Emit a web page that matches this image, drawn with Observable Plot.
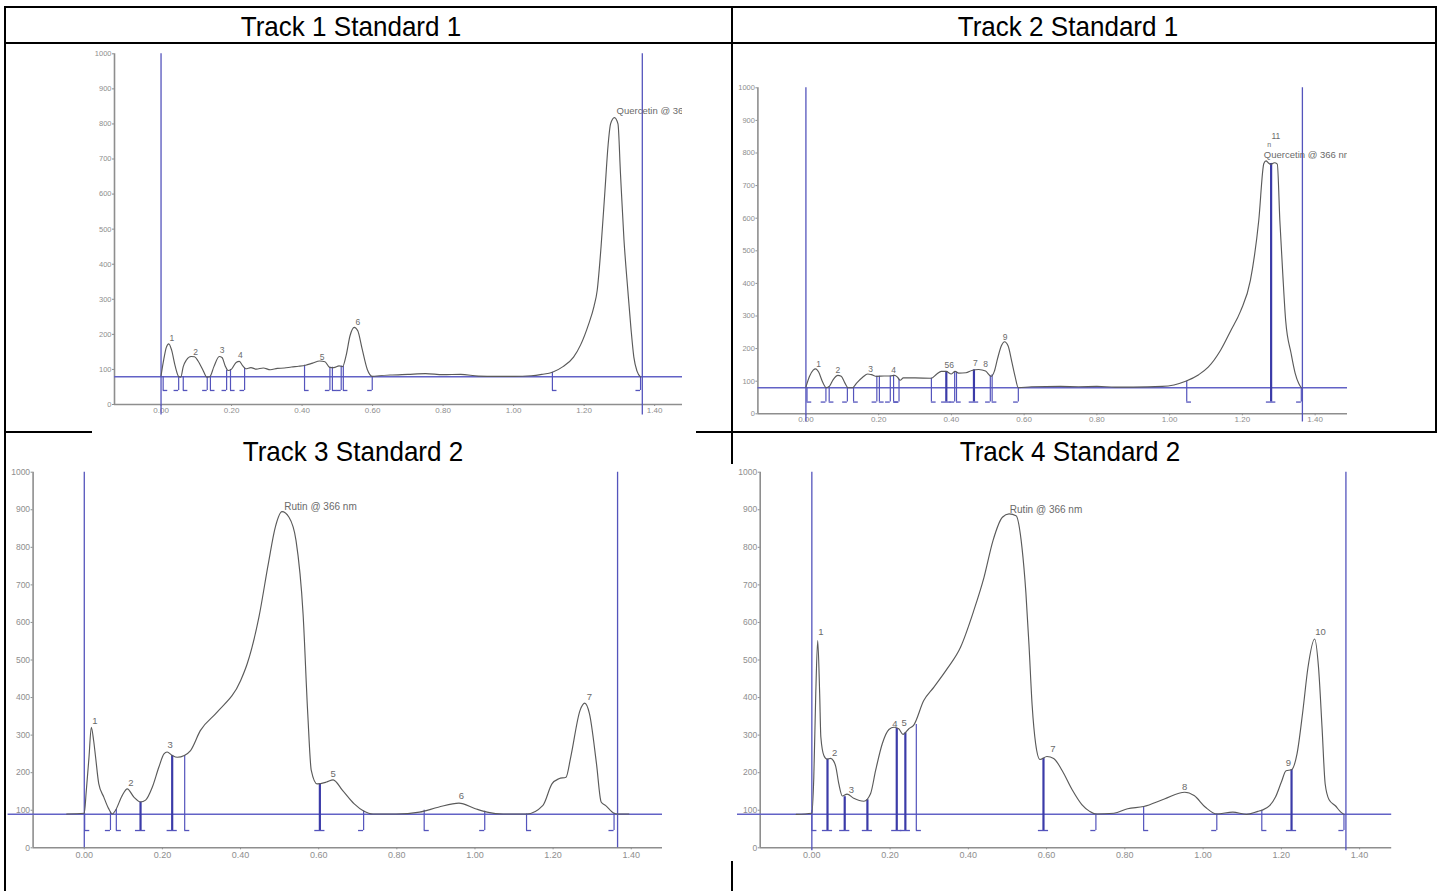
<!DOCTYPE html>
<html><head><meta charset="utf-8">
<script src="https://cdn.jsdelivr.net/npm/d3@7"></script>
<script src="https://cdn.jsdelivr.net/npm/@observablehq/plot@0.6"></script>
<style>
html,body{margin:0;padding:0;background:#fff;width:1441px;height:891px;overflow:hidden;font-family:"Liberation Sans",Arial,sans-serif;}
.ln{position:absolute;background:#000;}
.title{position:absolute;font-size:28px;line-height:1;color:#000;white-space:nowrap;transform:translateX(-50%) scaleX(0.93);}
.panel{position:absolute;}
.panel svg{display:block;}
</style></head><body>
<div class="ln" style="left:4px;top:6px;width:1433px;height:2px"></div>
<div class="ln" style="left:4px;top:42px;width:1433px;height:2px"></div>
<div class="ln" style="left:4px;top:431px;width:1433px;height:2px"></div>
<div class="ln" style="left:4px;top:6px;width:2px;height:885px"></div>
<div class="ln" style="left:731px;top:6px;width:2px;height:885px"></div>
<div class="ln" style="left:1435px;top:6px;width:2px;height:427px"></div>
<div class="title" style="left:351px;top:13px">Track 1 Standard 1</div>
<div class="title" style="left:1068px;top:13px">Track 2 Standard 1</div>
<div class="title" style="left:353px;top:438px">Track 3 Standard 2</div>
<div class="title" style="left:1070px;top:438px">Track 4 Standard 2</div>
<div id="p1" class="panel"></div>
<div id="p2" class="panel"></div>
<div id="p3" class="panel"></div>
<div id="p4" class="panel"></div>
<script>
// ---------- data ----------
const xTicks = [0, 0.2, 0.4, 0.6, 0.8, 1.0, 1.2, 1.4];
const yTicks = [0, 100, 200, 300, 400, 500, 600, 700, 800, 900, 1000];
const trackLines = [0, 1.365]; // application start / solvent front

const track1Curve = [[0.000,82],[0.008,130],[0.015,163],[0.022,173],[0.030,155],[0.040,110],[0.050,80],[0.056,78],[0.063,108],[0.072,127],[0.085,137],[0.095,136],[0.105,124],[0.118,100],[0.130,78],[0.138,79],[0.150,108],[0.165,137],[0.173,134],[0.182,110],[0.190,97],[0.200,101],[0.213,120],[0.222,123],[0.232,110],[0.240,102],[0.255,105],[0.270,101],[0.290,104],[0.310,99],[0.330,103],[0.350,104],[0.370,107],[0.390,109],[0.410,112],[0.430,118],[0.450,124],[0.465,122],[0.478,106],[0.490,105],[0.505,110],[0.515,108],[0.525,140],[0.536,196],[0.548,220],[0.558,210],[0.570,160],[0.585,100],[0.600,80],[0.620,82],[0.650,84],[0.700,86],[0.750,88],[0.800,85],[0.850,86],[0.900,81],[0.950,80],[1.000,80],[1.050,82],[1.080,86],[1.110,92],[1.140,108],[1.170,135],[1.190,170],[1.213,230],[1.228,280],[1.237,325],[1.248,450],[1.259,609],[1.268,740],[1.275,800],[1.286,818],[1.296,800],[1.303,660],[1.313,470],[1.324,325],[1.333,215],[1.341,135],[1.350,95],[1.360,78]];
const track1Bounds = [[0.006,80,"S"],[0.050,80,"E"],[0.063,80,"S"],[0.131,78,"E"],[0.140,79,"S"],[0.186,98,"E"],[0.197,100,"S"],[0.237,104,"E"],[0.407,112,"S"],[0.479,106,"E"],[0.486,106,"S"],[0.511,110,"E"],[0.517,109,"S"],[0.599,80,"E"],[1.110,92,"S"],[1.360,78,"E"]];
const track1Labels = [[0.031,190,"1"],[0.098,149,"2"],[0.173,154,"3"],[0.225,140,"4"],[0.457,135,"5"],[0.558,234,"6"]];
const track1Name = [[1.292,837,"Quercetin @ 366 nm"]];

const track2Curve = [[0.000,82],[0.010,115],[0.020,134],[0.027,138],[0.035,128],[0.045,100],[0.056,80],[0.065,85],[0.075,105],[0.088,118],[0.097,115],[0.107,95],[0.116,80],[0.128,80],[0.140,95],[0.156,112],[0.170,122],[0.180,120],[0.195,115],[0.215,116],[0.232,116],[0.244,118],[0.252,112],[0.259,103],[0.268,110],[0.300,110],[0.344,109],[0.360,122],[0.372,130],[0.385,130],[0.400,122],[0.410,130],[0.420,125],[0.440,126],[0.456,133],[0.475,136],[0.494,131],[0.509,115],[0.518,130],[0.527,170],[0.538,210],[0.546,221],[0.556,208],[0.566,160],[0.575,115],[0.584,80],[0.620,83],[0.700,84],[0.750,83],[0.800,84],[0.850,82],[0.900,82],[0.980,84],[1.044,100],[1.080,120],[1.106,143],[1.140,195],[1.168,255],[1.195,315],[1.222,409],[1.245,593],[1.259,768],[1.265,776],[1.271,770],[1.278,765],[1.288,770],[1.296,766],[1.303,593],[1.311,430],[1.319,286],[1.334,185],[1.345,125],[1.355,93],[1.362,80]];
const track2Bounds = [[0.003,80,"S"],[0.055,80,"E"],[0.064,82,"S"],[0.114,80,"E"],[0.131,80,"S"],[0.195,115,"E"],[0.202,115,"S"],[0.232,116,"E"],[0.241,118,"S"],[0.256,106,"E"],[0.345,109,"S"],[0.386,130,"B"],[0.409,128,"E"],[0.414,128,"S"],[0.462,135,"B"],[0.507,116,"E"],[0.512,120,"S"],[0.584,80,"E"],[1.047,100,"S"],[1.279,768,"B"],[1.362,80,"E"]];
const track2Labels = [[0.035,153,"1"],[0.088,133,"2"],[0.178,138,"3"],[0.241,133,"4"],[0.394,148,"56"],[0.466,155,"7"],[0.494,151,"8"],[0.548,235,"9"],[1.292,850,"11"]];
const track2Mark = [[1.274,824,"n"]];
const track2Name = [[1.259,794,"Quercetin @ 366 nm"]];

const track3Curve = [[-0.045,90],[0.000,92],[0.005,150],[0.012,240],[0.018,321],[0.024,285],[0.029,241],[0.037,171],[0.050,135],[0.062,105],[0.072,90],[0.080,100],[0.097,139],[0.110,157],[0.127,135],[0.144,122],[0.157,127],[0.174,161],[0.191,215],[0.204,250],[0.212,255],[0.225,246],[0.238,241],[0.256,246],[0.272,259],[0.297,312],[0.340,361],[0.400,445],[0.417,490],[0.447,614],[0.471,756],[0.489,854],[0.506,895],[0.524,880],[0.542,818],[0.560,623],[0.572,357],[0.581,206],[0.596,170],[0.620,175],[0.637,181],[0.661,153],[0.691,117],[0.715,98],[0.739,90],[0.798,90],[0.858,95],[0.906,108],[0.959,119],[1.001,104],[1.031,95],[1.072,90],[1.132,90],[1.174,113],[1.197,170],[1.215,184],[1.233,188],[1.245,241],[1.269,366],[1.281,385],[1.293,357],[1.311,224],[1.323,122],[1.334,113],[1.356,92],[1.364,90],[1.394,90]];
const track3Bounds = [[0.001,90,"S"],[0.067,95,"E"],[0.082,102,"S"],[0.144,122,"B"],[0.225,246,"B"],[0.257,246,"S"],[0.603,170,"B"],[0.715,98,"E"],[0.870,100,"S"],[1.025,97,"E"],[1.132,90,"S"],[1.356,92,"E"]];
const track3Labels = [[0.027,339,"1"],[0.119,172,"2"],[0.220,275,"3"],[0.637,197,"5"],[0.965,139,"6"],[1.293,401,"7"]];
const track3Name = [[0.512,909,"Rutin @ 366 nm"]];

const track4Curve = [[-0.040,89],[0.000,92],[0.005,188],[0.010,410],[0.015,552],[0.020,410],[0.023,295],[0.031,245],[0.039,236],[0.048,238],[0.055,232],[0.061,217],[0.069,170],[0.078,138],[0.090,143],[0.107,132],[0.133,124],[0.150,144],[0.163,206],[0.180,277],[0.197,315],[0.210,321],[0.222,317],[0.233,302],[0.248,317],[0.260,326],[0.286,392],[0.312,428],[0.346,477],[0.380,534],[0.414,632],[0.440,720],[0.463,818],[0.487,880],[0.504,889],[0.522,884],[0.537,800],[0.547,680],[0.555,540],[0.563,380],[0.572,277],[0.583,235],[0.601,243],[0.618,238],[0.640,205],[0.665,155],[0.690,115],[0.710,97],[0.726,90],[0.772,92],[0.807,104],[0.848,110],[0.901,130],[0.953,148],[0.977,139],[1.006,108],[1.035,90],[1.076,95],[1.111,89],[1.140,97],[1.150,100],[1.170,112],[1.185,135],[1.200,175],[1.212,205],[1.226,208],[1.240,250],[1.255,365],[1.268,480],[1.285,556],[1.295,480],[1.304,320],[1.312,170],[1.322,128],[1.338,112],[1.352,95],[1.360,89]];
const track4Bounds = [[0.000,100,"S"],[0.040,236,"B"],[0.084,136,"B"],[0.142,128,"B"],[0.217,318,"B"],[0.239,306,"B"],[0.267,328,"S"],[0.592,238,"B"],[0.726,90,"E"],[0.848,110,"S"],[1.035,90,"E"],[1.150,100,"S"],[1.226,208,"B"],[1.360,89,"E"]];
const track4Labels = [[0.023,574,"1"],[0.058,252,"2"],[0.101,153,"3"],[0.212,330,"4"],[0.236,333,"5"],[0.616,264,"7"],[0.953,163,"8"],[1.218,225,"9"],[1.300,574,"10"]];
const track4Name = [[0.506,901,"Rutin @ 366 nm"]];

// ---------- drawing ----------
const AXIS = "#8e8e8e", BLUE = "#5454bc", BLUE_D = "#3b3ba8", BASE = "#6262c6", CURVE = "#5a5a5a", LABEL = "#6a6a6a";

function drawPanel(el, o) {
  const [x0, x1] = o.xDomain;
  const f = 0.013;
  const feet = o.bounds.map(d => ({
    y: o.footY,
    a: d[2] === "S" ? d[0] : d[0] - f,
    b: d[2] === "E" ? d[0] : d[0] + f
  }));
  const chart = Plot.plot({
    width: o.width, height: o.height,
    marginLeft: o.ml, marginRight: o.mr, marginTop: o.mt, marginBottom: o.mb,
    x: {domain: o.xDomain},
    y: {domain: [0, 1000]},
    style: {background: o.bg, fontFamily: "'Liberation Sans', Arial, sans-serif", overflow: "visible"},
    marks: [
      Plot.axisX({ticks: xTicks, tickFormat: d3.format(".2f"), tickSize: 2, tickPadding: o.tp, fontSize: o.fs, color: AXIS, label: null}),
      Plot.axisY({ticks: yTicks, tickFormat: d3.format("d"), tickSize: 2, tickPadding: 1, fontSize: o.fs - 0.5, color: AXIS, label: null}),
      Plot.ruleY([0], {x1: x0, x2: x1, stroke: AXIS, strokeWidth: 1.6}),
      Plot.ruleX([x0], {y1: 0, y2: 1000, stroke: AXIS, strokeWidth: 1.6}),
      Plot.ruleY([o.baseY], {x1: o.baseX1, x2: x1, stroke: BASE, strokeWidth: 1.5}),
      Plot.ruleX(trackLines, {y1: o.vLow, y2: 1000, stroke: BLUE, strokeWidth: 1.3}),
      Plot.ruleX(o.bounds.filter(d => d[2] !== "B"), {x: d => d[0], y1: o.footY, y2: d => d[1], stroke: BLUE, strokeWidth: 1.2}),
      Plot.ruleX(o.bounds.filter(d => d[2] === "B"), {x: d => d[0], y1: o.footY, y2: d => d[1], stroke: BLUE_D, strokeWidth: 2.2}),
      Plot.ruleY(feet, {y: "y", x1: "a", x2: "b", stroke: BLUE, strokeWidth: 1.3}),
      Plot.line(o.curve, {x: d => d[0], y: d => d[1], curve: "monotone-x", stroke: CURVE, strokeWidth: 1.15}),
      Plot.text(o.labels, {x: d => d[0], y: d => d[1], text: d => d[2], fontSize: o.lfs, fill: LABEL}),
      Plot.text(o.extra || [], {x: d => d[0], y: d => d[1], text: d => d[2], fontSize: o.lfs - 1.5, fill: LABEL}),
      Plot.text(o.name, {x: d => d[0], y: d => d[1], text: d => d[2], fontSize: o.nfs, fill: LABEL, textAnchor: "start", clip: true})
    ]
  });
  el.style.left = o.left + "px";
  el.style.top = o.top + "px";
  el.appendChild(chart);
}

drawPanel(document.getElementById("p1"), {
  curve: track1Curve, bounds: track1Bounds, labels: track1Labels, name: track1Name,
  xDomain: [-0.132, 1.479], left: 92, top: 45, width: 604, height: 392,
  ml: 22, mr: 14, mt: 8.3, mb: 33, footY: 40, vLow: -30, baseY: 79, baseX1: -0.132,
  fs: 8, tp: 1, lfs: 8.5, nfs: 9.5, bg: "#fff"
});
drawPanel(document.getElementById("p2"), {
  curve: track2Curve, bounds: track2Bounds, labels: track2Labels, extra: track2Mark, name: track2Name,
  xDomain: [-0.132, 1.489], left: 734, top: 62, width: 695, height: 368,
  ml: 23.4, mr: 82, mt: 25.3, mb: 16.7, footY: 36, vLow: -25, baseY: 80, baseX1: -0.132,
  fs: 8, tp: 1, lfs: 8.5, nfs: 9.5, bg: "transparent"
});
drawPanel(document.getElementById("p3"), {
  curve: track3Curve, bounds: track3Bounds, labels: track3Labels, name: track3Name,
  xDomain: [-0.131, 1.480], left: 8, top: 462, width: 672, height: 415,
  ml: 24.6, mr: 18, mt: 9.7, mb: 29.7, footY: 46, vLow: 0, baseY: 89, baseX1: -0.195,
  fs: 9, tp: 2, lfs: 9.5, nfs: 10, bg: "transparent"
});
drawPanel(document.getElementById("p4"), {
  curve: track4Curve, bounds: track4Bounds, labels: track4Labels, name: track4Name,
  xDomain: [-0.132, 1.482], left: 729, top: 464, width: 690, height: 397,
  ml: 30.7, mr: 27.8, mt: 7.7, mb: 13.7, footY: 46, vLow: -8, baseY: 89, baseX1: -0.19,
  fs: 9, tp: 2, lfs: 9.5, nfs: 10, bg: "#fff"
});
</script>
</body></html>
